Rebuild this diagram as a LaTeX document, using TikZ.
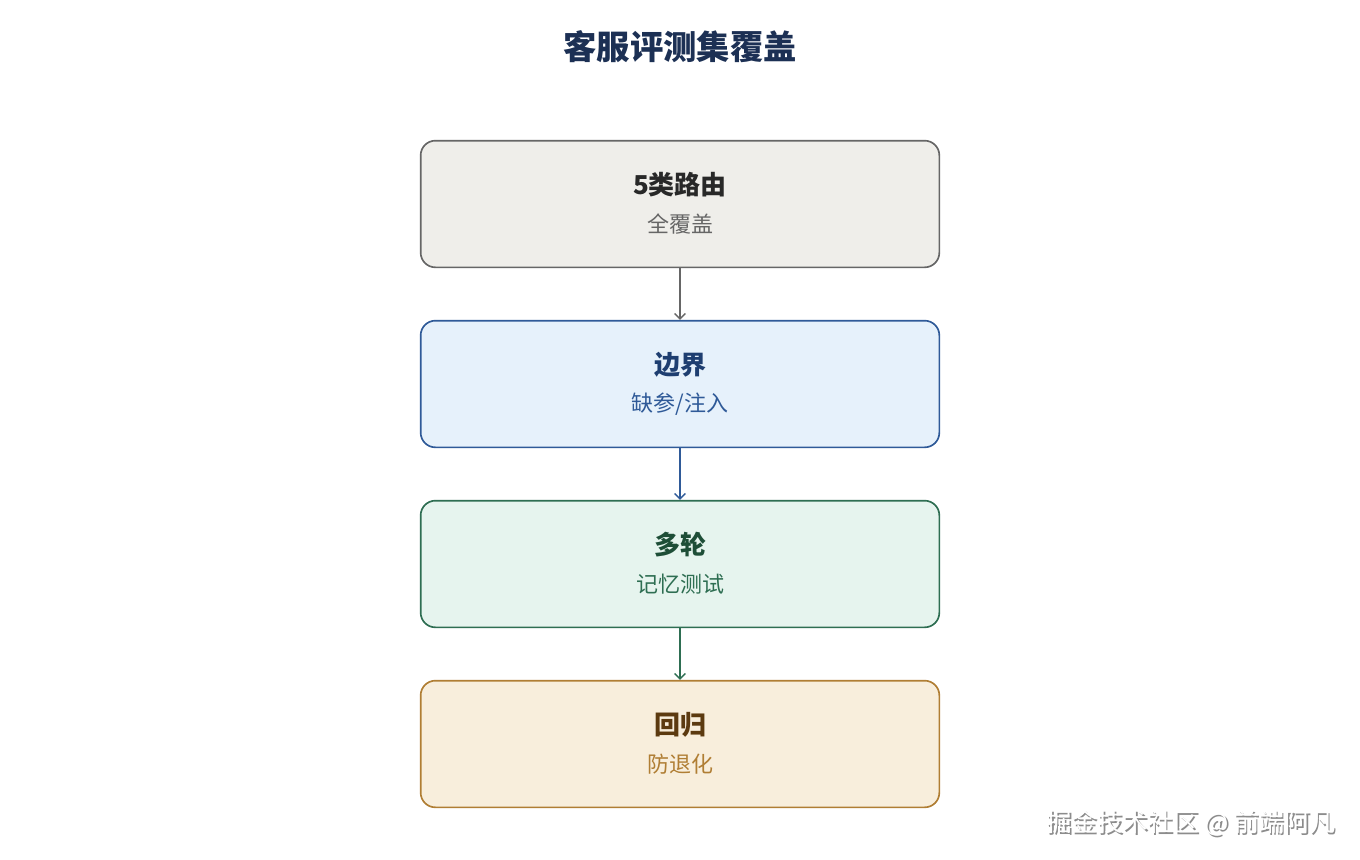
\documentclass[tikz,border=0pt]{standalone}
\usepackage{fontspec}
\setmainfont{Noto Sans CJK SC}
\usetikzlibrary{arrows.meta}

\definecolor{titleblue}{RGB}{28,48,84}
\definecolor{routefill}{RGB}{239,238,234}
\definecolor{routeline}{RGB}{102,102,102}
\definecolor{routehead}{RGB}{40,40,40}
\definecolor{edgefill}{RGB}{230,241,251}
\definecolor{edgeline}{RGB}{47,90,152}
\definecolor{edgehead}{RGB}{30,62,112}
\definecolor{turnfill}{RGB}{230,244,238}
\definecolor{turnline}{RGB}{46,110,82}
\definecolor{turnhead}{RGB}{30,78,55}
\definecolor{regfill}{RGB}{248,238,220}
\definecolor{regline}{RGB}{176,126,52}
\definecolor{reghead}{RGB}{92,58,16}

\tikzset{every picture/.style={line width=0.75pt}}

\begin{document}
\begin{tikzpicture}[x=0.75pt,y=0.75pt,yscale=-1,xscale=1,
  stagebox/.style={draw, rounded corners=11pt, line width=1.25pt, minimum width=389pt, minimum height=95pt, inner sep=0pt},
  headtxt/.style={font=\bfseries\fontsize{19.5}{22}\selectfont, inner sep=0pt},
  subtxt/.style={font=\fontsize{16.5}{19}\selectfont, inner sep=0pt},
  flow/.style={line width=1pt, -{Straight Barb[length=4pt,width=8pt]}}]
%background, sets the size of the page
\fill[white] (0,0) rectangle (1360,860);

% Text Node
\node[font=\bfseries\fontsize{25}{29}\selectfont, text=titleblue, inner sep=0pt] (title) at (680,47) {客服评测集覆盖};

%Rounded Rect
\node[stagebox, fill=routefill, draw=routeline] (route) at (680,204) {};
%Rounded Rect
\node[stagebox, fill=edgefill, draw=edgeline] (edge) at (680,384) {};
%Rounded Rect
\node[stagebox, fill=turnfill, draw=turnline] (turn) at (680,564) {};
%Rounded Rect
\node[stagebox, fill=regfill, draw=regline] (reg) at (680,744) {};

% Text Node
\node[headtxt, text=routehead] (routeh) at (680,185) {5类路由};
\node[subtxt, text=routeline] (routes) at (680,224) {全覆盖};
% Text Node
\node[headtxt, text=edgehead] (edgeh) at (680,365) {边界};
\node[subtxt, text=edgeline] (edges) at (680,404) {缺参/注入};
% Text Node
\node[headtxt, text=turnhead] (turnh) at (680,545) {多轮};
\node[subtxt, text=turnline] (turns) at (680,584) {记忆测试};
% Text Node
\node[headtxt, text=reghead] (regh) at (680,725) {回归};
\node[subtxt, text=regline] (regs) at (680,764) {防退化};

%Straight Lines
\draw[flow, routeline] (route) -- (edge);
\draw[flow, edgeline] (edge) -- (turn);
\draw[flow, turnline] (turn) -- (reg);

% Text Node (watermark)
\node[anchor=east, font=\fontsize{19}{22}\selectfont, text=black!45, inner sep=0pt] (markshadow) at (1337.5,824.5) {掘金技术社区 @ 前端阿凡};
\node[anchor=east, font=\fontsize{19}{22}\selectfont, text=white, inner sep=0pt] (mark) at (1336,823) {掘金技术社区 @ 前端阿凡};

\end{tikzpicture}
\end{document}
